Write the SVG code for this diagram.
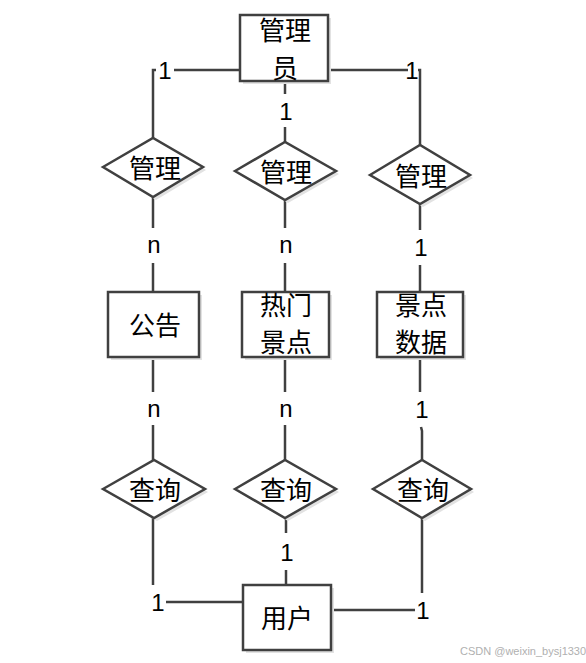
<svg xmlns="http://www.w3.org/2000/svg" width="586" height="663" viewBox="0 0 586 663">
<style>
.shape{fill:#ffffff;stroke:#404040;stroke-width:2.5}
.shadow{fill:#e2e2e2;stroke:none}
.cn{font-family:"Noto Sans CJK SC","Liberation Sans",sans-serif;font-size:26px;fill:#000;text-anchor:middle}
.lbl{font-family:"Liberation Sans","DejaVu Sans",sans-serif;font-size:24px;fill:#000;text-anchor:middle}
.ln{fill:none;stroke:#404040;stroke-width:2.5}
.wm{font-family:"Liberation Sans",sans-serif;font-size:11px;fill:#b0b0b0}
</style>
<rect width="586" height="663" fill="#ffffff"/>
<g id="connectors">
<path class="ln" d="M240,70 H174"/>
<path class="ln" d="M156,70 H153 V138"/>
<path class="ln" d="M328,70 H408"/>
<path class="ln" d="M418,70 H420 V145"/>
<path class="ln" d="M285,81 V94"/>
<path class="ln" d="M285,127 V142"/>
<path class="ln" d="M153,197 V228"/>
<path class="ln" d="M153,263 V292"/>
<path class="ln" d="M285,200 V228"/>
<path class="ln" d="M285,263 V292"/>
<path class="ln" d="M420,204 V230"/>
<path class="ln" d="M420,265 V292"/>
<path class="ln" d="M153,357 V392"/>
<path class="ln" d="M153,425 V460"/>
<path class="ln" d="M285,357 V392"/>
<path class="ln" d="M285,425 V460"/>
<path class="ln" d="M420,357 V392"/>
<path class="ln" d="M421,427 L422,431 V460"/>
<path class="ln" d="M153,518 V585"/>
<path class="ln" d="M166,602 H243"/>
<path class="ln" d="M286,518 V533"/>
<path class="ln" d="M286,570 V585"/>
<path class="ln" d="M422,518 V593"/>
<path class="ln" d="M331,610 H415"/>
<text class="lbl" x="165" y="79">1</text>
<text class="lbl" x="412" y="79">1</text>
<text class="lbl" x="286" y="120">1</text>
<text class="lbl" x="154" y="253">n</text>
<text class="lbl" x="286" y="253">n</text>
<text class="lbl" x="421" y="256">1</text>
<text class="lbl" x="154" y="417">n</text>
<text class="lbl" x="286" y="417">n</text>
<text class="lbl" x="422" y="418">1</text>
<text class="lbl" x="158" y="611">1</text>
<text class="lbl" x="287" y="561">1</text>
<text class="lbl" x="423" y="619">1</text>
</g>
<g id="admin">
<rect class="shadow" x="243" y="18" width="88" height="66"/>
<rect class="shape" x="240" y="15" width="88" height="66"/>
<text class="cn" x="285" y="40">管理</text>
<text class="cn" x="285" y="78">员</text>
</g>
<g id="manage1">
<polygon class="shadow" points="106,170 156,141 206,170 156,200"/>
<polygon class="shape" points="103,167 153,138 203,167 153,197"/>
<text class="cn" x="155" y="178">管理</text>
</g>
<g id="manage2">
<polygon class="shadow" points="238,174 288,145 339,174 288,203"/>
<polygon class="shape" points="235,171 285,142 336,171 285,200"/>
<text class="cn" x="286" y="182">管理</text>
</g>
<g id="manage3">
<polygon class="shadow" points="373,178 423,148 473,178 423,207"/>
<polygon class="shape" points="370,175 420,145 470,175 420,204"/>
<text class="cn" x="421" y="186">管理</text>
</g>
<g id="notice">
<rect class="shadow" x="111" y="295" width="91" height="65"/>
<rect class="shape" x="108" y="292" width="91" height="65"/>
<text class="cn" x="155" y="335">公告</text>
</g>
<g id="hotspot">
<rect class="shadow" x="245" y="295" width="87" height="65"/>
<rect class="shape" x="242" y="292" width="87" height="65"/>
<text class="cn" x="286" y="315">热门</text>
<text class="cn" x="286" y="352">景点</text>
</g>
<g id="spotdata">
<rect class="shadow" x="380" y="295" width="86" height="65"/>
<rect class="shape" x="377" y="292" width="86" height="65"/>
<text class="cn" x="421" y="315">景点</text>
<text class="cn" x="421" y="352">数据</text>
</g>
<g id="query1">
<polygon class="shadow" points="106,492 157,463 208,492 157,521"/>
<polygon class="shape" points="103,489 154,460 205,489 154,518"/>
<text class="cn" x="155" y="500">查询</text>
</g>
<g id="query2">
<polygon class="shadow" points="238,492 288,463 339,492 288,521"/>
<polygon class="shape" points="235,489 285,460 336,489 285,518"/>
<text class="cn" x="286" y="500">查询</text>
</g>
<g id="query3">
<polygon class="shadow" points="376,492 425,463 474,492 425,521"/>
<polygon class="shape" points="373,489 422,460 471,489 422,518"/>
<text class="cn" x="423" y="500">查询</text>
</g>
<g id="user">
<rect class="shadow" x="246" y="588" width="88" height="65"/>
<rect class="shape" x="243" y="585" width="88" height="65"/>
<text class="cn" x="287" y="628">用户</text>
</g>
<text class="wm" x="460" y="655">CSDN @weixin_bysj1330</text>
</svg>
